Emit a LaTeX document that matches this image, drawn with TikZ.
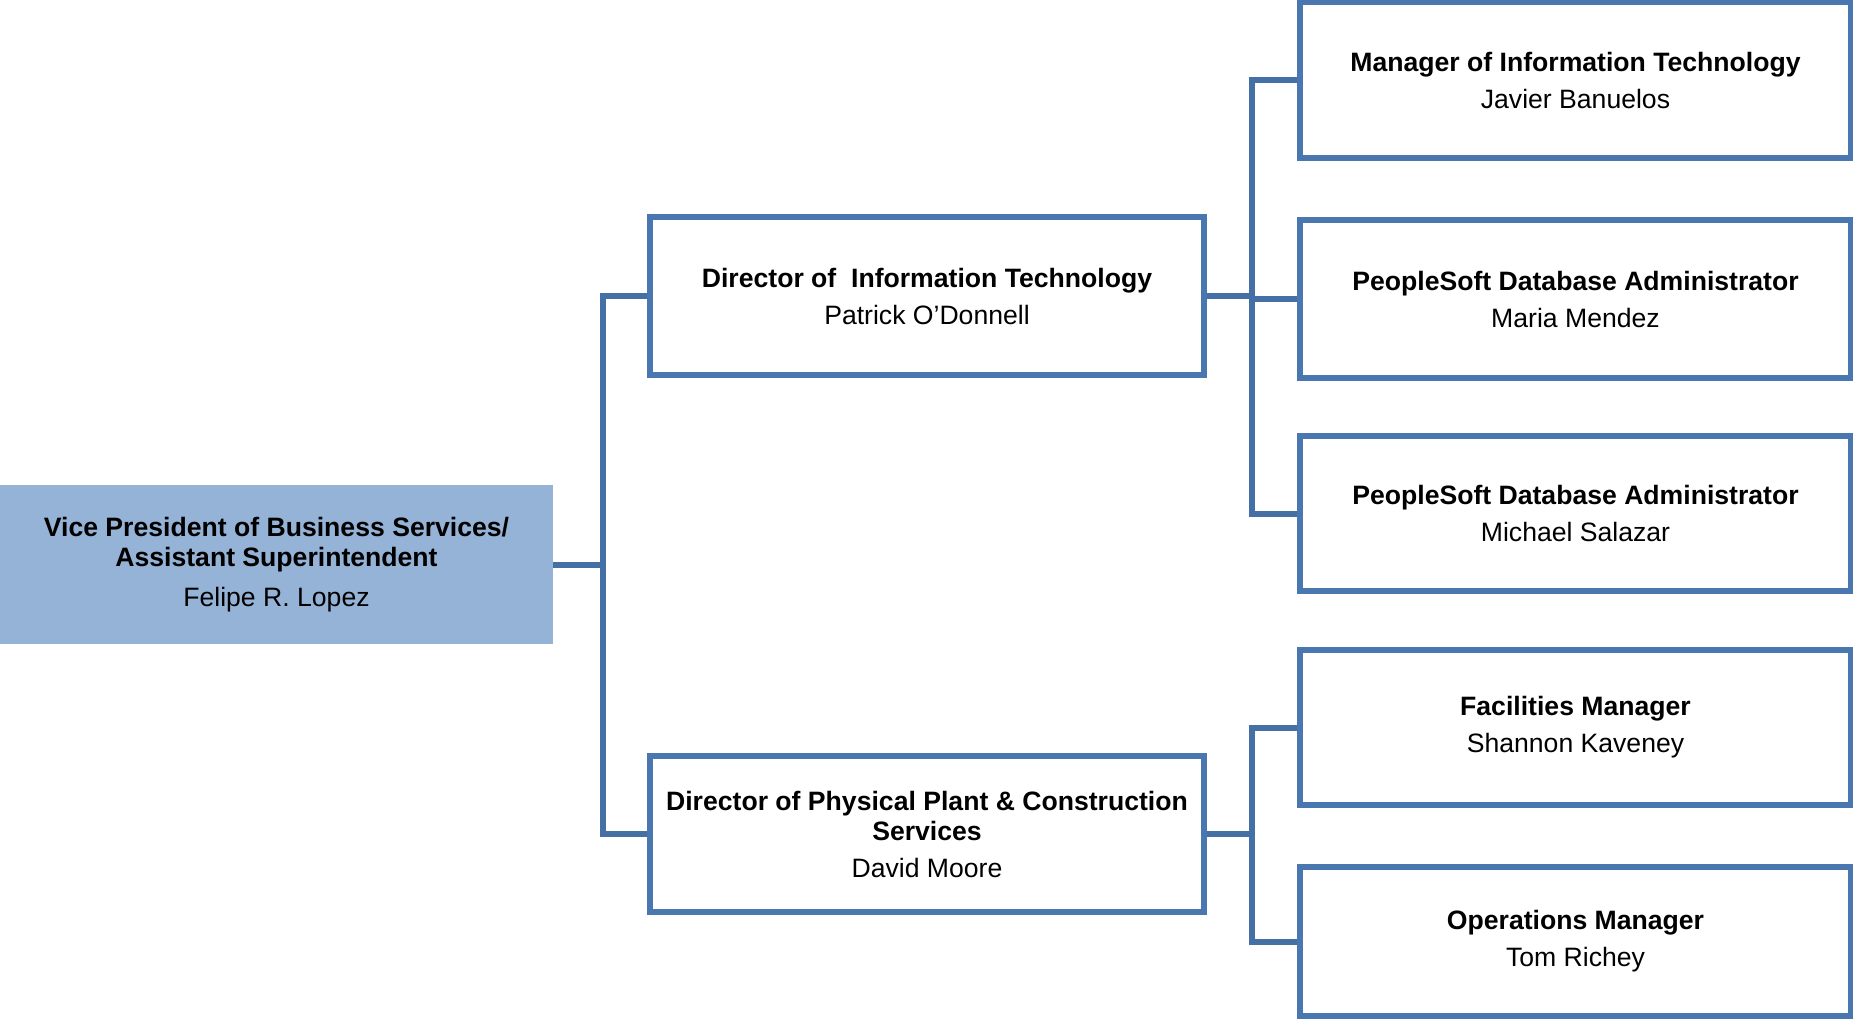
\documentclass[tikz,border=0pt]{standalone}
\usepackage{fontspec}
\setmainfont{Liberation Sans}
\usepackage{tikz}

\definecolor{orgline}{HTML}{4A77AF}
\definecolor{orgconn}{HTML}{4470A6}
\definecolor{orgfill}{HTML}{95B3D7}

\begin{document}
\begin{tikzpicture}[x=0.5pt, y=-0.5pt,
    every node/.style={font=\fontsize{13.3}{15}\selectfont, align=center, inner sep=0pt},
    topbox/.style={fill=orgfill, minimum width=276.5pt, minimum height=79.5pt},
    box/.style={draw=orgline, fill=white, line width=3pt, minimum width=277pt, minimum height=79pt},
    subbox/.style={box, minimum width=275.5pt, minimum height=77.5pt},
    conn/.style={draw=orgconn, line width=3pt}]
    \useasboundingbox (0,0) rectangle (1853,1019);

    \node[topbox] (vp) at (276.5,564.5) {\textbf{Vice President of Business Services/}\\\textbf{Assistant Superintendent}\\[5pt] Felipe R. Lopez};

    \node[box] (dit) at (927,296) {\textbf{Director of\ \ Information Technology}\\[3.5pt] Patrick O’Donnell};
    \node[box, minimum height=78pt] (dpp) at (927,834) {\textbf{Director of Physical Plant \& Construction}\\\textbf{Services}\\[3.5pt] David Moore};

    \node[subbox, minimum height=78pt] (mit) at (1575.5,80) {\textbf{Manager of Information Technology}\\[3.5pt] Javier Banuelos};
    \node[subbox, minimum height=79pt] (ps1) at (1575.5,299) {\textbf{PeopleSoft Database Administrator}\\[3.5pt] Maria Mendez};
    \node[subbox] (ps2) at (1575.5,513.5) {\textbf{PeopleSoft Database Administrator}\\[3.5pt] Michael Salazar};
    \node[subbox] (fac) at (1575.5,727.5) {\textbf{Facilities Manager}\\[3.5pt] Shannon Kaveney};
    \node[subbox, minimum height=74.5pt] (ops) at (1575.5,941.5) {\textbf{Operations Manager}\\[3.5pt] Tom Richey};

    % VP to directors
    \coordinate (vpbus) at (603,564.5);
    \draw[conn] (vp.east) -- (vpbus);
    \draw[conn] (vpbus) |- (dit.west);
    \draw[conn] (vpbus) |- (dpp.west);

    % IT staff
    \coordinate (itbus) at (1252,296);
    \draw[conn] (dit.east) -- (itbus);
    \foreach \n in {mit,ps1,ps2}
        \draw[conn] (itbus) |- (\n.west);

    % plant staff
    \coordinate (ppbus) at (1252,834);
    \draw[conn] (dpp.east) -- (ppbus);
    \foreach \n in {fac,ops}
        \draw[conn] (ppbus) |- (\n.west);
\end{tikzpicture}
\end{document}
